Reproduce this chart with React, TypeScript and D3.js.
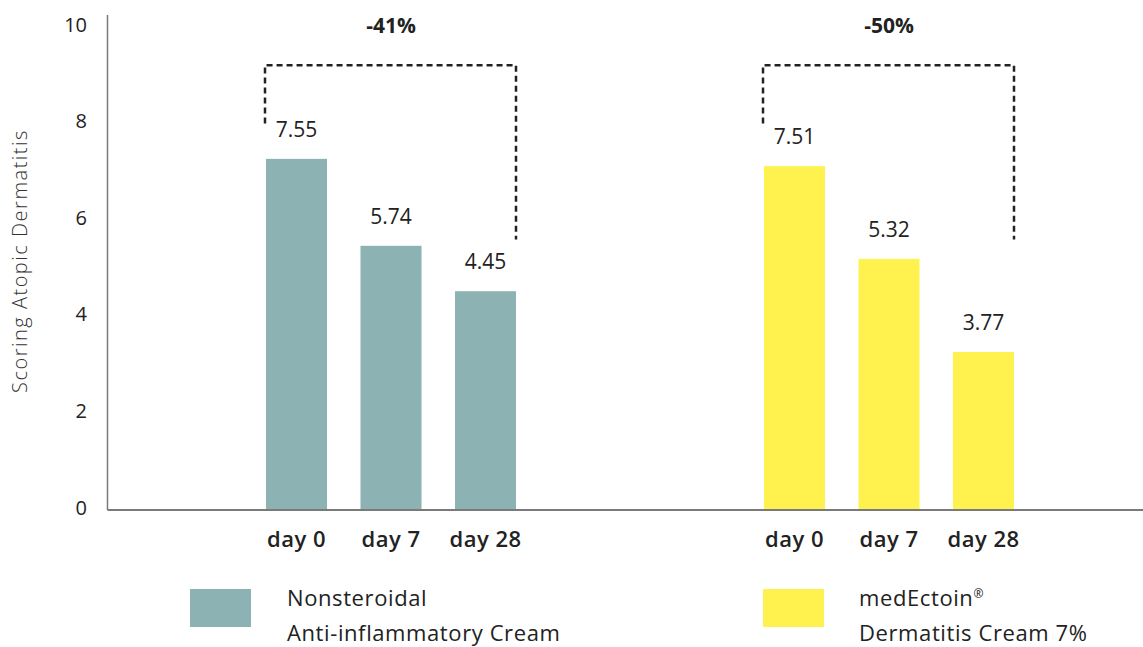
import React from "react";
import * as d3 from "d3";

const groups = ["nsaid", "medectoin"];
const days = ["day 0", "day 7", "day 28"];
// bar heights as drawn in the picture (score units)
const nsaidBars = [7.27, 5.47, 4.53];
const medEctoinBars = [7.12, 5.2, 3.27];
// value labels printed above the bars
const nsaidLabels = ["7.55", "5.74", "4.45"];
const medEctoinLabels = ["7.51", "5.32", "3.77"];
const reductionLabels = ["-41%", "-50%"];
const yTicks = [0, 2, 4, 6, 8, 10];
const colors = ["#8cb2b4", "#fff24f"];
const legendLines = [
  ["Nonsteroidal", "Anti-inflammatory Cream"],
  ["medEctoin", "Dermatitis Cream 7%"],
];

const W = 1143;
const H = 647;
const FONT = "'Open Sans', Lato, sans-serif";
const TXT = "#222222";
const LEGEND_RECT_X = [190, 763];
const LEGEND_TEXT_X = [287, 859];

export default function App() {
  const y = d3.scaleLinear().domain([0, 10]).range([510, 27]);
  const x0 = d3.scaleBand<string>().domain(groups).range([142, 1138]);
  const x1 = d3
    .scaleBand<string>()
    .domain(days)
    .range([124, 374])
    .paddingInner(0.3545)
    .paddingOuter(0);

  const series = [nsaidBars, medEctoinBars];
  const labels = [nsaidLabels, medEctoinLabels];
  const axisX = 107.5;

  return (
    <svg
      width={W}
      height={H}
      style={{ position: "fixed", left: 0, top: 0, background: "#fff" }}
      fontFamily={FONT}
    >
      {/* y axis */}
      <line x1={axisX} x2={axisX} y1={15} y2={y(0)} stroke="#7a7a7a" strokeWidth={1.5} />
      {yTicks.map((t) => (
        <text
          key={t}
          x={87}
          y={y(t) - 3}
          textAnchor="end"
          dominantBaseline="central"
          fontSize={20}
          fill={TXT}
        >
          {t}
        </text>
      ))}
      <text
        transform={`translate(27,261) rotate(-90)`}
        textAnchor="middle"
        fontSize={20}
        fontWeight={300}
        letterSpacing={1.5}
        fill="#333"
      >
        Scoring Atopic Dermatitis
      </text>

      {groups.map((g, gi) => {
        const gx = x0(g)!;
        const vals = series[gi];
        const bx0 = gx + x1(days[0])!;
        const bx2 = gx + x1(days[2])! + x1.bandwidth();
        const top = y(9.21);
        const leftEnd = y(8.0);
        const rightEnd = y(5.6);
        return (
          <g key={g}>
            {vals.map((v, i) => {
              const bx = gx + x1(days[i])!;
              return (
                <g key={i}>
                  <rect
                    x={bx}
                    y={y(v)}
                    width={x1.bandwidth()}
                    height={y(0) - y(v)}
                    fill={colors[gi]}
                  />
                  <text
                    x={bx + x1.bandwidth() / 2}
                    y={y(v) - 22}
                    textAnchor="middle"
                    fontSize={21}
                    fontWeight={500}
                    fill={TXT}
                  >
                    {labels[gi][i]}
                  </text>
                  <text
                    x={bx + x1.bandwidth() / 2}
                    y={546.5}
                    textAnchor="middle"
                    fontSize={22}
                    fontWeight={600}
                    letterSpacing={0.5}
                    fill={TXT}
                  >
                    {days[i]}
                  </text>
                </g>
              );
            })}
            <path
              d={`M${bx0 - 1},${leftEnd} V${top} H${bx2} V${rightEnd}`}
              fill="none"
              stroke="#222"
              strokeWidth={2.5}
              strokeDasharray="6,4"
            />
            <text
              x={(bx0 + bx2) / 2}
              y={33}
              textAnchor="middle"
              fontSize={21}
              fontWeight={700}
              fill={TXT}
            >
              {reductionLabels[gi]}
            </text>
            {/* legend */}
            <rect x={LEGEND_RECT_X[gi]} y={589} width={61} height={38} fill={colors[gi]} />
            <text x={LEGEND_TEXT_X[gi]} y={606} fontSize={22} letterSpacing={0.6} fill={TXT}>
              {legendLines[gi][0]}
              {gi === 1 ? (
                <tspan dy={-8} fontSize={12} letterSpacing={0}>
                  ®
                </tspan>
              ) : null}
            </text>
            <text x={LEGEND_TEXT_X[gi]} y={641} fontSize={22} letterSpacing={0.6} fill={TXT}>
              {legendLines[gi][1]}
            </text>
          </g>
        );
      })}

      {/* baseline */}
      <line x1={axisX} x2={W} y1={y(0)} y2={y(0)} stroke="#7a7a7a" strokeWidth={1.8} />
    </svg>
  );
}
